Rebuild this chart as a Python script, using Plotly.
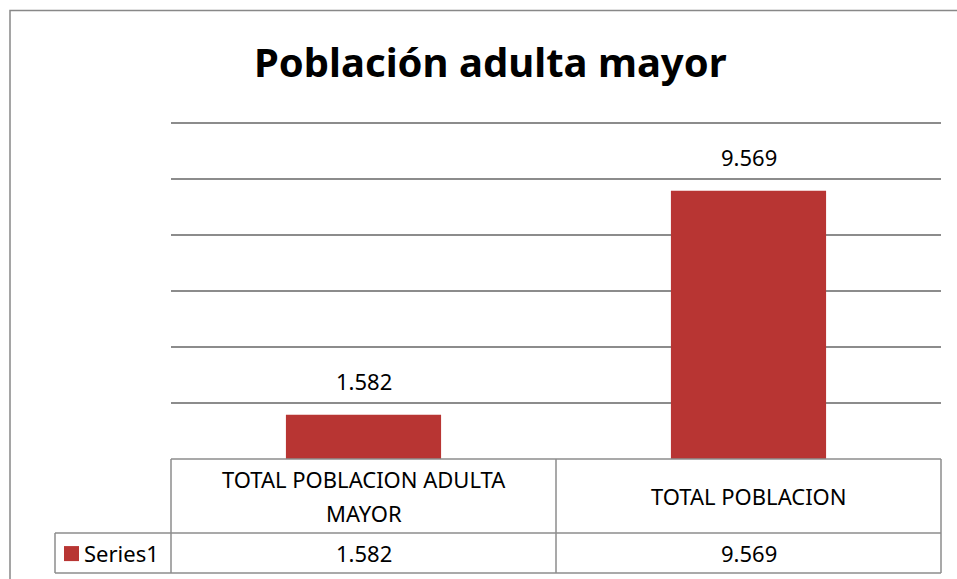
import plotly.graph_objects as go

categories = ["TOTAL POBLACION ADULTA MAYOR", "TOTAL POBLACION"]
category_labels = ["TOTAL POBLACION ADULTA<br>MAYOR", "TOTAL POBLACION"]
values = [1582, 9569]
value_labels = ["1.582", "9.569"]
series_name = "Series1"
title = "Población adulta mayor"

W, H = 957, 579
L, R, T, B = 171, 941, 121.3, 459
YMAX = 12060

def px(x):
    return (x - L) / (R - L)

def py(y):
    return (B - y) / (B - T)

FONT = "Noto Sans"
BAR = "#B83533"
LINE = "#8C8C8C"

fig = go.Figure()
fig.add_trace(go.Bar(
    x=categories, y=values, name=series_name,
    marker=dict(color=BAR, line=dict(width=0)),
    showlegend=False, hoverinfo="x+y",
))

shapes = []
shapes.append(dict(type="rect", xref="paper", yref="paper",
                   x0=px(10), x1=px(1010), y0=py(640), y1=py(11),
                   line=dict(color="#888888", width=1.5)))

def hline(x0, x1, y):
    shapes.append(dict(type="line", xref="paper", yref="paper",
                       x0=px(x0), x1=px(x1), y0=py(y), y1=py(y),
                       line=dict(color=LINE, width=1.5)))

def vline(x, y0, y1):
    shapes.append(dict(type="line", xref="paper", yref="paper",
                       x0=px(x), x1=px(x), y0=py(y0), y1=py(y1),
                       line=dict(color=LINE, width=1.5)))

hline(171, 941, 459)
hline(55, 941, 533)
hline(55, 941, 573)
vline(55, 533, 573)
vline(171, 459, 573)
vline(556, 459, 573)
vline(941, 459, 573)
shapes.append(dict(type="rect", xref="paper", yref="paper",
                   x0=px(64), x1=px(79), y0=py(561), y1=py(546),
                   fillcolor=BAR, line=dict(width=0)))

annotations = []
for cat, v, lab in zip(categories, values, value_labels):
    annotations.append(dict(x=cat, y=v, xref="x", yref="y", text=lab, showarrow=False,
                            xanchor="center", yanchor="bottom", yshift=17,
                            font=dict(family=FONT, size=22, color="#000000")))

centers = [363.5, 748.5]
for c, lab, v in zip(centers, category_labels, value_labels):
    lines = lab.split("<br>")
    n = len(lines)
    for i, line in enumerate(lines):
        yc = 496 + (i - (n - 1) / 2) * 34
        annotations.append(dict(xref="paper", yref="paper", x=px(c), y=py(yc),
                                text=line, showarrow=False, xanchor="center", yanchor="middle",
                                font=dict(family=FONT, size=22, color="#000000")))
    annotations.append(dict(xref="paper", yref="paper", x=px(c), y=py(553),
                            text=v, showarrow=False, xanchor="center", yanchor="middle",
                            font=dict(family=FONT, size=22, color="#000000")))
annotations.append(dict(xref="paper", yref="paper", x=px(82), y=py(553),
                        text=series_name, showarrow=False, xanchor="left", yanchor="middle",
                        font=dict(family=FONT, size=22, color="#000000")))
annotations.append(dict(xref="paper", yref="paper", x=px(490), y=py(62),
                        text="<b>" + title + "</b>", showarrow=False, xanchor="center", yanchor="middle",
                        font=dict(family=FONT, size=40, color="#000000")))

fig.update_layout(
    width=W, height=H,
    margin=dict(l=L, r=W - R, t=T, b=H - B, pad=0),
    paper_bgcolor="white", plot_bgcolor="white",
    bargap=0.597,
    shapes=shapes, annotations=annotations,
    xaxis=dict(showticklabels=False, showgrid=False, zeroline=False, showline=False, ticks=""),
    yaxis=dict(range=[0, YMAX], dtick=2000, showticklabels=False, showgrid=True,
               gridcolor=LINE, gridwidth=1.5, zeroline=False, showline=False, ticks=""),
)

fig.write_html("out.html", config={"displayModeBar": False},
               post_script="document.body.style.margin='0';document.body.style.overflow='hidden';")
